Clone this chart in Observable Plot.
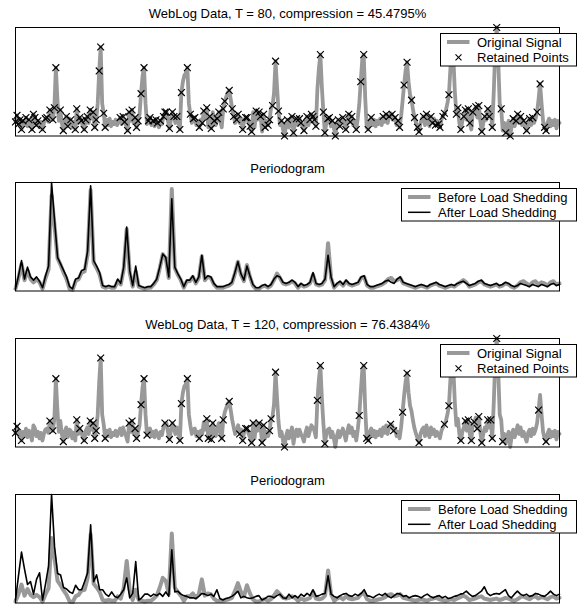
<!DOCTYPE html>
<html>
<head>
<meta charset="utf-8">
<script src="https://cdn.jsdelivr.net/npm/d3@7"></script>
<script src="https://cdn.jsdelivr.net/npm/@observablehq/plot@0.6"></script>
<style>
  html, body { margin: 0; padding: 0; background: #fff; }
  #root { position: relative; width: 584px; height: 604px; overflow: hidden; font-family: "Liberation Sans", Arial, sans-serif; }
  .panel { position: absolute; left: 0; width: 584px; }
  .panel > svg { position: absolute; left: 0; top: 0; }
</style>
</head>
<body>
<div id="root"></div>
<script>
// ---- Data ----
// Original WebLog signal, 365 daily samples (0 = min, 100 = max)
const signal = [
  13,19,11,15,6,14,10,17,9,15,
  12,6,20,17,10,14,8,13,6,12,
  16,17,13,24,18,15,26,63,35,14,
  24,12,5,14,18,9,16,15,8,13,
  6,25,12,17,14,9,6,15,18,12,
  24,16,22,8,15,30,60,82,30,21,
  8,15,10,16,9,13,11,15,10,14,
  17,11,18,13,10,5,22,14,24,12,
  17,8,14,20,39,55,63,30,11,14,
  17,10,14,9,15,12,8,14,11,18,
  22,22,14,7,15,22,18,12,18,14,
  6,40,50,56,58,63,30,20,12,16,
  17,10,14,8,15,12,23,16,26,8,
  18,7,22,14,10,16,22,14,8,25,
  32,36,40,42,34,25,18,12,15,20,
  12,16,6,14,17,17,12,9,4,22,
  8,23,15,22,18,4,20,8,14,10,
  15,26,28,40,69,45,23,10,14,6,
  0,10,15,8,13,18,3,12,16,10,
  16,12,9,5,13,18,10,15,20,18,
  15,9,43,62,75,45,22,3,12,16,
  17,9,14,8,0,10,15,9,13,17,
  12,6,14,20,13,18,10,14,6,16,
  29,50,70,75,35,8,6,14,17,10,
  15,9,14,11,16,10,18,13,20,12,
  18,21,20,15,17,10,14,8,18,32,
  47,60,68,50,38,33,24,17,12,8,
  4,12,16,18,10,20,13,9,18,12,
  16,10,14,11,8,15,18,21,24,30,
  38,62,80,72,40,20,26,12,6,14,
  18,24,15,25,12,6,22,23,27,17,
  28,14,4,12,18,15,25,18,25,8,
  40,80,100,70,30,25,5,12,3,10,
  14,0,10,16,9,14,20,12,18,10,
  14,9,5,13,16,10,17,12,16,22,
  34,48,30,14,8,5,12,16,9,14,
  10,15,7,14,12
];

// Indices of the points retained by load shedding
const retainedT80 = [
  0,1,2,3,4,5,7,9,11,12,13,14,15,18,20,21,23,25,26,27,30,32,34,35,37,40,41,43,44,46,47,48,
  50,52,53,54,56,57,59,60,70,72,73,75,76,78,80,81,82,84,86,89,90,92,94,95,97,99,100,101,103,
  105,106,108,110,111,115,117,119,120,123,125,126,128,130,131,133,135,136,139,140,143,145,146,
  148,149,152,154,155,157,158,161,163,164,166,167,169,170,172,174,176,178,180,182,185,186,188,
  190,191,193,195,197,198,199,200,201,204,206,207,209,210,212,214,216,217,219,221,223,224,225,
  228,231,233,236,238,246,248,250,252,254,256,257,260,262,265,267,269,270,273,275,278,279,281,
  283,284,286,287,290,295,296,298,300,301,303,304,306,308,310,312,314,316,317,319,322,325,328,
  331,333,335,336,338,340,342,344,346,349,351,354,355
];
const retainedT120 = [
  0,1,4,23,25,27,32,41,43,46,50,52,53,54,57,60,76,78,80,81,84,86,88,100,103,105,110,111,115,
  123,128,129,131,132,138,139,143,150,152,154,155,158,159,163,165,166,170,171,174,180,202,204,
  207,230,233,235,236,251,253,259,262,270,287,290,298,301,303,305,307,309,310,312,316,318,319,
  322,326,350,355
];

// Periodograms, 182 frequency bins (common units)
const periodBefore = [
  2,12,25,10,19,11,8,11,8,2,
  12,20,88,60,30,24,17,11,2,1,
  9,11,17,18,34,93,26,21,15,4,
  3,4,3,3,9,6,20,57,17,4,
  18,4,3,2,3,3,6,10,21,34,
  30,12,94,21,15,10,3,9,9,13,
  7,12,32,10,13,12,6,3,3,3,
  4,5,7,16,27,15,9,24,13,5,
  2,2,4,5,3,5,10,16,12,7,
  6,7,9,7,3,6,4,5,7,15,
  6,5,6,10,44,12,3,6,8,5,
  9,6,5,6,7,12,13,5,3,3,
  4,5,6,8,11,12,9,10,12,7,
  6,5,4,3,4,5,4,3,5,6,
  7,5,4,3,4,5,4,6,8,10,
  8,4,5,6,8,9,6,5,4,5,
  6,4,5,7,6,4,3,5,8,9,
  7,5,8,9,6,8,7,5,8,9,
  6,7
];
const periodAfterT80 = [
  2,14,28,11,22,13,10,13,9,3,
  14,23,100,65,31,25,19,13,4,2,
  11,12,19,20,37,97,28,23,17,5,
  4,5,4,4,11,7,22,59,19,5,
  23,5,4,3,4,4,7,11,22,34,
  31,13,85,22,16,11,4,10,10,14,
  8,13,33,11,14,13,7,4,4,4,
  5,6,8,17,27,16,10,23,14,6,
  3,3,5,6,4,6,11,14,13,8,
  7,8,10,8,4,7,5,6,8,17,
  7,6,7,11,33,13,4,7,9,6,
  10,7,6,7,8,13,14,6,4,4,
  5,6,7,9,10,8,7,11,13,8,
  7,6,5,4,5,6,5,4,6,7,
  8,6,5,4,5,6,5,7,8,9,
  7,5,6,7,9,10,7,6,5,6,
  7,5,6,8,7,5,4,5,7,6,
  5,4,6,5,4,6,5,4,6,7,
  5,6
];
const periodAfterT120 = [
  4,37,69,46,25,29,12,32,41,4,
  26,50,147,76,40,38,21,19,15,13,
  24,18,18,29,41,106,29,38,18,18,
  12,9,15,9,7,12,18,34,7,13,
  56,4,7,12,12,9,12,10,13,9,
  15,9,72,15,16,12,10,9,7,7,
  6,9,13,12,10,12,9,18,6,4,
  6,7,9,12,16,7,9,7,6,7,
  9,10,4,6,9,9,7,10,12,7,
  6,12,7,10,7,12,9,13,10,18,
  9,10,12,13,37,12,9,7,10,12,
  13,10,9,12,10,13,18,10,9,7,
  10,12,10,13,9,7,10,13,12,9,
  10,7,9,10,9,7,10,12,9,7,
  9,10,7,9,6,7,9,10,12,13,
  16,12,9,10,13,16,22,13,10,12,
  13,12,15,18,10,7,12,16,12,10,
  12,9,10,13,12,10,9,12,16,12,
  10,12
];

const titles = [
  "WebLog Data, T = 80, compression = 45.4795%",
  "Periodogram",
  "WebLog Data, T = 120, compression = 76.4384%",
  "Periodogram"
];
const legendSignal = ["Original Signal", "Retained Points"];
const legendPeriod = ["Before Load Shedding", "After Load Shedding"];

// ---- Layout ----
const FONT = "Liberation Sans, Arial, sans-serif";
const GRAY = "#999999";
const root = document.getElementById("root");

function basePlot(title, marks, yDomain, xDomain) {
  return Plot.plot({
    width: 584,
    height: 140,
    marginLeft: 15,
    marginRight: 25,
    marginTop: 27,
    marginBottom: 4.5,
    x: {domain: xDomain, axis: null},
    y: {domain: yDomain, axis: null},
    style: {fontFamily: FONT, fontSize: "13px", background: "transparent", overflow: "visible"},
    marks: [
      ...marks,
      Plot.frame({stroke: "#000", strokeWidth: 1}),
      Plot.text([title], {frameAnchor: "top", text: d => d, lineAnchor: "bottom", dy: -10, fill: "#000", fontSize: 13})
    ]
  });
}

function legend(panel, width, labels, kinds) {
  const left = 576 - width;
  const svg = d3.select(panel).append("svg")
    .attr("width", width + 1).attr("height", 34)
    .style("position", "absolute").style("left", left + "px").style("top", "33px")
    .style("overflow", "visible");
  svg.append("rect").attr("x", 0.5).attr("y", 0.5).attr("width", width).attr("height", 32.5)
    .attr("fill", "#fff").attr("stroke", "#000").attr("stroke-width", 1);
  labels.forEach((label, j) => {
    const cy = 9 + j * 15.3;
    const kind = kinds[j];
    if (kind === "cross") {
      const cx = 18.5, h = 3;
      svg.append("path")
        .attr("d", `M${cx - h},${cy - h}L${cx + h},${cy + h}M${cx - h},${cy + h}L${cx + h},${cy - h}`)
        .attr("stroke", "#000").attr("stroke-width", 1.1).attr("fill", "none");
    } else {
      svg.append("line").attr("x1", 7).attr("x2", 29.5).attr("y1", cy).attr("y2", cy)
        .attr("stroke", kind === "gray" ? GRAY : "#000")
        .attr("stroke-width", kind === "gray" ? 4 : 1.5);
    }
    svg.append("text").attr("x", 37).attr("y", cy + 4.5)
      .attr("font-family", FONT).attr("font-size", 13).attr("fill", "#000").text(label);
  });
}

function makePanel(top) {
  const div = document.createElement("div");
  div.className = "panel";
  div.style.top = top + "px";
  div.style.height = "140px";
  root.appendChild(div);
  return div;
}

function signalPanel(top, title, retained) {
  const series = signal.map((v, i) => ({i, v}));
  const kept = retained.map(i => ({i, v: signal[i]}));
  const p = makePanel(top);
  p.appendChild(basePlot(title, [
    Plot.line(series, {x: "i", y: "v", stroke: GRAY, strokeWidth: 3.8, strokeLinejoin: "round"}),
    Plot.dot(kept, {x: "i", y: "v", symbol: "times", r: 3.2, stroke: "#000", strokeWidth: 1.15, fill: "none"})
  ], [d3.min(signal), d3.max(signal)], [0, signal.length - 1]));
  legend(p, 136, legendSignal, ["gray", "cross"]);
}

function periodPanel(top, title, after) {
  const before = periodBefore.map((v, k) => ({k, v}));
  const aft = after.map((v, k) => ({k, v}));
  const p = makePanel(top);
  p.appendChild(basePlot(title, [
    Plot.line(before, {x: "k", y: "v", stroke: GRAY, strokeWidth: 4, strokeLinejoin: "round"}),
    Plot.line(aft, {x: "k", y: "v", stroke: "#000", strokeWidth: 1.6, strokeLinejoin: "round"})
  ], [0, Math.max(d3.max(periodBefore), d3.max(after))], [0, periodBefore.length - 1]));
  legend(p, 175, legendPeriod, ["gray", "black"]);
}

signalPanel(0, titles[0], retainedT80);
periodPanel(155, titles[1], periodAfterT80);
signalPanel(311, titles[2], retainedT120);
periodPanel(466.5, titles[3], periodAfterT120);
</script>
</body>
</html>
